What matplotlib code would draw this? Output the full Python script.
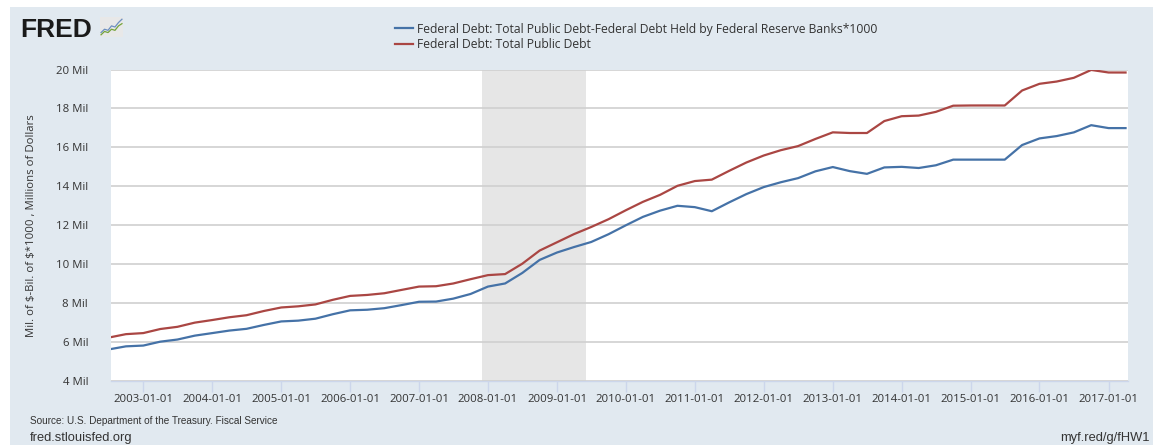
import matplotlib
matplotlib.use("Agg")
import matplotlib.pyplot as plt
import matplotlib.dates as mdates
from matplotlib.patches import Rectangle
import pandas as pd

# ---------------- data (quarterly, values in "Mil" of millions of dollars) ----------------
dates = pd.date_range("2002-07-01", periods=60, freq="QS")

total_public_debt = [
    6.228, 6.406,
    6.461, 6.670, 6.783, 6.998,
    7.131, 7.274, 7.379, 7.596,
    7.777, 7.836, 7.933, 8.170,
    8.371, 8.420, 8.507, 8.680,
    8.850, 8.868, 9.008, 9.229,
    9.438, 9.492, 10.025, 10.700,
    11.127, 11.545, 11.910, 12.311,
    12.773, 13.202, 13.562, 14.025,
    14.270, 14.343, 14.790, 15.223,
    15.582, 15.856, 16.066, 16.433,
    16.772, 16.738, 16.738, 17.352,
    17.601, 17.633, 17.824, 18.141,
    18.152, 18.153, 18.151, 18.922,
    19.265, 19.382, 19.573, 19.977,
    19.846, 19.845,
]

debt_less_fed = [
    5.62, 5.78,
    5.82, 6.02, 6.13, 6.33,
    6.46, 6.59, 6.68, 6.88,
    7.06, 7.10, 7.20, 7.43,
    7.63, 7.66, 7.74, 7.90,
    8.07, 8.08, 8.23, 8.47,
    8.85, 9.01, 9.55, 10.22,
    10.60, 10.88, 11.14, 11.54,
    12.00, 12.43, 12.75, 13.00,
    12.93, 12.72, 13.17, 13.60,
    13.96, 14.21, 14.42, 14.77,
    14.99, 14.78, 14.64, 14.97,
    15.00, 14.94, 15.08, 15.37,
    15.37, 15.37, 15.37, 16.12,
    16.46, 16.58, 16.77, 17.14,
    16.99, 16.99,
]

series_labels = [
    "Federal Debt: Total Public Debt-Federal Debt Held by Federal Reserve Banks*1000",
    "Federal Debt: Total Public Debt",
]
recession_start = pd.Timestamp("2007-12-01")
recession_end = pd.Timestamp("2009-06-01")
y_ticks = [4, 6, 8, 10, 12, 14, 16, 18, 20]
y_tick_labels = [f"{v} Mil" for v in y_ticks]
x_tick_years = list(range(2003, 2018))
y_label = "Mil. of \\$-Bil. of \\$*1000 , Millions of Dollars"

# ---------------- style ----------------
BG = "#e1e9f0"
BLUE = "#4572a7"
RED = "#aa4643"
TXT = "#333333"
FONT = ["Open Sans", "DejaVu Sans"]
NARROW = ["Liberation Sans Narrow", "Liberation Sans", "DejaVu Sans"]
plt.rcParams["font.family"] = FONT

W, H = 1158, 445
fig = plt.figure(figsize=(W / 100, H / 100), dpi=100)
fig.patch.set_facecolor("white")

# light panel behind everything
fig.patches.append(Rectangle((10 / W, 0), (1153 - 10) / W, (H - 7) / H,
                             transform=fig.transFigure, facecolor=BG,
                             edgecolor="none", zorder=-10))

ax = fig.add_axes([111 / W, (H - 381) / H, (1128 - 111) / W, (381 - 69.5) / H])
ax.set_facecolor("white")

ax.axvspan(recession_start, recession_end, color="#e6e6e6", zorder=1, lw=0)
l1, = ax.plot(dates, debt_less_fed, color=BLUE, lw=1.6, zorder=3,
              solid_joinstyle="round")
l2, = ax.plot(dates, total_public_debt, color=RED, lw=1.6, zorder=3,
              solid_joinstyle="round")

shift = pd.Timedelta(days=13)
ax.set_xlim(dates[0] + shift, dates[-1] + shift)
ax.set_ylim(4, 20)
ax.set_yticks(y_ticks)
ax.set_yticklabels(y_tick_labels)
ax.yaxis.grid(True, color="#d0d0d0", lw=1.2, zorder=2)
ax.set_axisbelow(False)
for s in ["top", "right", "left"]:
    ax.spines[s].set_visible(False)
ax.spines["bottom"].set_color("#ccd6eb")
ax.spines["bottom"].set_linewidth(1.0)

ax.set_xticks([pd.Timestamp(f"{y}-01-01") for y in x_tick_years])
ax.xaxis.set_major_formatter(mdates.DateFormatter("%Y-%m-%d"))
ax.tick_params(axis="x", direction="out", length=8, width=1, color="#ccd6eb",
               labelsize=8.2, labelcolor=TXT, pad=1.5)
ax.tick_params(axis="y", length=0, labelsize=8.2, labelcolor=TXT, pad=16.5)

ax.set_ylabel(y_label, fontsize=8.2, color=TXT)
ax.yaxis.set_label_coords(-(111 - 37) / (1128 - 111), 0.5)

# legend
fig.legend([l1, l2], series_labels, loc="upper left",
           bbox_to_anchor=(395 / W, 1 - 22.5 / H), frameon=False,
           fontsize=8.75, labelcolor=TXT, handlelength=1.45, handletextpad=0.4,
           labelspacing=0.22, borderaxespad=0, borderpad=0)

# FRED logo
fig.text(20 / W, 1 - 37 / H, "FRED", fontsize=19, fontweight="bold",
         family=["Liberation Sans", "DejaVu Sans"], color="#1a1a1a",
         va="baseline", ha="left")
icon = fig.add_axes([100 / W, 1 - 37 / H, 23 / W, 20 / H])
icon.set_facecolor("#e8e8e8")
icon.set_xticks([]); icon.set_yticks([])
for s in icon.spines.values():
    s.set_visible(False)
icon_x = [0, 1, 2, 3, 4, 5, 6]
icon_blue = [2, 3.5, 3, 5, 4.5, 6.5, 8]
icon_green = [1, 2.5, 2, 3.5, 3, 5, 6]
icon.plot(icon_x, icon_blue, color="#6d8fc0", lw=0.9)
icon.plot(icon_x, icon_green, color="#74a33a", lw=0.9)
icon.set_xlim(-0.3, 6.3); icon.set_ylim(0, 9)

# footer
fig.text(30 / W, (H - 421) / H, "Source: U.S. Department of the Treasury. Fiscal Service",
         fontsize=7.2, family=NARROW, color=TXT, va="center", ha="left")
fig.text(30 / W, (H - 438) / H, "fred.stlouisfed.org", fontsize=9.3,
         family=NARROW, color=TXT, va="center", ha="left")
fig.text(1150 / W, (H - 438) / H, "myf.red/g/fHW1", fontsize=9.3,
         family=NARROW, color=TXT, va="center", ha="right")

fig.savefig("out.png", dpi=100, facecolor=fig.get_facecolor())
